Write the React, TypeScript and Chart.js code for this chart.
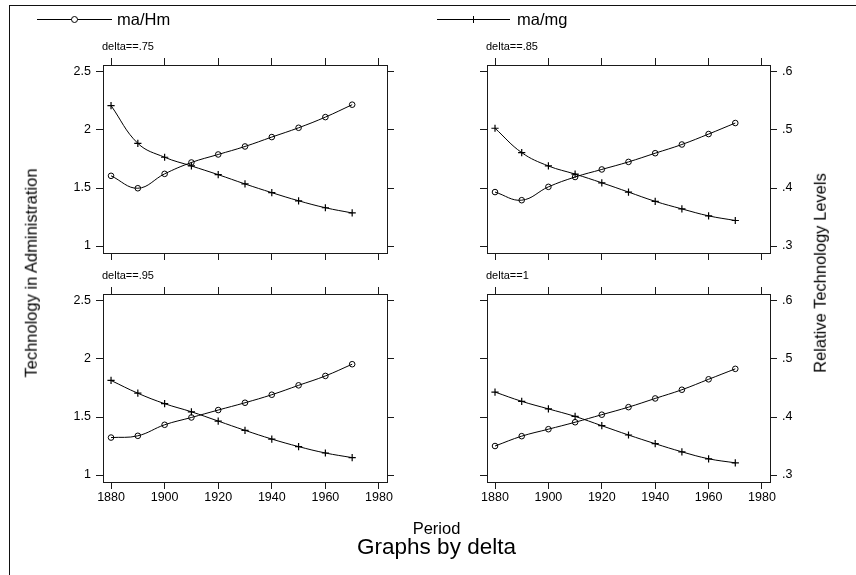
import React, { useEffect, useRef } from 'react';
import { Chart, registerables } from 'chart.js';

Chart.register(...registerables);

// ---------- data ----------
const years = [1880, 1890, 1900, 1910, 1920, 1930, 1940, 1950, 1960, 1970];
const xTicks = [1880, 1900, 1920, 1940, 1960, 1980];
const yLeftTicks = [1, 1.5, 2, 2.5];
const yLeftLabels = ['1', '1.5', '2', '2.5'];
const yRightTicks = [0.3, 0.4, 0.5, 0.6];
const yRightLabels = ['.3', '.4', '.5', '.6'];
const seriesNames = ['ma/Hm', 'ma/mg'];
const panelTitles = ['delta==.75', 'delta==.85', 'delta==.95', 'delta==1'];

// ma/Hm on left axis (Technology in Administration)
const maHm75 = [1.605, 1.498, 1.622, 1.72, 1.789, 1.858, 1.939, 2.019, 2.111, 2.218];
const maHm85 = [1.465, 1.395, 1.51, 1.595, 1.66, 1.725, 1.8, 1.875, 1.965, 2.06];
const maHm95 = [1.323, 1.338, 1.433, 1.496, 1.56, 1.623, 1.692, 1.773, 1.854, 1.955];
const maHm1 = [1.25, 1.335, 1.395, 1.455, 1.52, 1.585, 1.66, 1.735, 1.825, 1.915];

// ma/mg on right axis (Relative Technology Levels)
const maMg75 = [0.542, 0.477, 0.453, 0.438, 0.423, 0.407, 0.392, 0.378, 0.366, 0.357];
const maMg85 = [0.503, 0.461, 0.438, 0.424, 0.409, 0.393, 0.377, 0.364, 0.352, 0.344];
const maMg95 = [0.463, 0.441, 0.423, 0.409, 0.393, 0.377, 0.362, 0.349, 0.338, 0.33];
const maMg1 = [0.443, 0.427, 0.414, 0.401, 0.385, 0.369, 0.354, 0.34, 0.328, 0.321];

// ---------- layout ----------
const W = 856;
const H = 575;
const FONT = "'Liberation Sans', Arial, Helvetica, sans-serif";
const FRAME = '#1a1a1a';
const AXW = 45; // fixed width of vertical axis boxes
const AXH = 30; // fixed height of horizontal axis boxes

const panels = [
  { title: panelTitles[0], hm: maHm75, mg: maMg75, l: 103, t: 65, r: 387, b: 253, left: true, right: false, bottom: false },
  { title: panelTitles[1], hm: maHm85, mg: maMg85, l: 487, t: 65, r: 770, b: 253, left: false, right: true, bottom: false },
  { title: panelTitles[2], hm: maHm95, mg: maMg95, l: 103, t: 294, r: 387, b: 482, left: true, right: false, bottom: true },
  { title: panelTitles[3], hm: maHm1, mg: maMg1, l: 487, t: 294, r: 770, b: 482, left: false, right: true, bottom: true },
];

type Panel = typeof panels[number];

function makeChart(canvas: HTMLCanvasElement, p: Panel) {
  const fixW = (s: any) => { s.width = AXW; };
  const fixH = (s: any) => { s.height = AXH; };
  const setTicks = (vals: number[]) => (s: any) => { s.ticks = vals.map((v) => ({ value: v })); };
  const font = { family: FONT, size: 12.5 };
  const grid = { drawOnChartArea: false, drawTicks: true, tickLength: 7, color: FRAME, lineWidth: 1 };
  const border = { display: true, color: FRAME, width: 1 };
  const xMin = 1877;
  const xMax = 1983;
  return new Chart(canvas, {
    type: 'line',
    data: {
      datasets: [
        {
          label: seriesNames[0],
          data: years.map((x, i) => ({ x, y: p.hm[i] })),
          xAxisID: 'x',
          yAxisID: 'y',
          borderColor: '#000',
          borderWidth: 1,
          tension: 0.4,
          fill: false,
          pointStyle: 'circle',
          pointRadius: 2.8,
          pointBackgroundColor: 'rgba(255,255,255,0)',
          pointBorderColor: '#000',
          pointBorderWidth: 1,
        },
        {
          label: seriesNames[1],
          data: years.map((x, i) => ({ x, y: p.mg[i] })),
          xAxisID: 'x',
          yAxisID: 'y1',
          borderColor: '#000',
          borderWidth: 1,
          tension: 0.4,
          fill: false,
          pointStyle: 'cross',
          pointRadius: 3.6,
          pointBorderColor: '#000',
          pointBorderWidth: 1.2,
        },
      ],
    },
    options: {
      animation: false,
      responsive: false,
      events: [],
      layout: { padding: { left: p.l - AXW, top: p.t - AXH, right: W - p.r - AXW, bottom: H - p.b - AXH } },
      plugins: { legend: { display: false }, tooltip: { enabled: false } },
      scales: {
        x: {
          type: 'linear', position: 'bottom', min: xMin, max: xMax,
          afterBuildTicks: setTicks(xTicks), afterFit: fixH, grid, border,
          ticks: { display: p.bottom, autoSkip: false, maxRotation: 0, padding: 1, color: '#000', font, callback: (v: any) => String(v) },
        },
        x2: {
          type: 'linear', position: 'top', min: xMin, max: xMax,
          afterBuildTicks: setTicks(xTicks), afterFit: fixH, grid, border,
          ticks: { display: false },
        },
        y: {
          type: 'linear', position: 'left', min: 0.94, max: 2.56,
          afterBuildTicks: setTicks(yLeftTicks), afterFit: fixW, grid, border,
          ticks: { display: p.left, autoSkip: false, padding: 5, color: '#000', font, callback: (_v: any, i: number) => yLeftLabels[i] },
        },
        y1: {
          type: 'linear', position: 'right', min: 0.288, max: 0.612,
          afterBuildTicks: setTicks(yRightTicks), afterFit: fixW, grid, border,
          ticks: { display: p.right, autoSkip: false, padding: 5, color: '#000', font, callback: (_v: any, i: number) => yRightLabels[i] },
        },
      },
    } as any,
  });
}

function PanelCanvas({ p }: { p: Panel }) {
  const ref = useRef<HTMLCanvasElement>(null);
  useEffect(() => {
    if (!ref.current) return;
    const c = makeChart(ref.current, p);
    return () => c.destroy();
  }, [p]);
  return <canvas ref={ref} width={W} height={H} style={{ position: 'absolute', left: 0, top: 0, width: W, height: H }} />;
}

const txt = (extra: React.CSSProperties): React.CSSProperties => ({
  position: 'absolute', fontFamily: FONT, color: '#000', whiteSpace: 'nowrap', lineHeight: 1, ...extra,
});

export default function App() {
  return (
    <div style={{ position: 'fixed', left: 0, top: 0, width: W, height: H, overflow: 'hidden', background: '#fff' }}>
      <div style={{ position: 'absolute', left: 9, top: 5, width: 1000, height: 1000, borderLeft: '1px solid #111', borderTop: '1px solid #111' }} />
      {panels.map((p, i) => <PanelCanvas key={i} p={p} />)}
      {panels.map((p, i) => (
        <div key={'t' + i} style={txt({ left: p.l - 1, top: p.t - 24, fontSize: 11 })}>{p.title}</div>
      ))}

      {/* legend */}
      <div style={{ position: 'absolute', left: 37, top: 19, width: 75, height: 1, background: '#000' }} />
      <div style={{ position: 'absolute', left: 71, top: 16, width: 5, height: 5, border: '1px solid #000', borderRadius: '50%', background: '#fff' }} />
      <div style={txt({ left: 117, top: 11, fontSize: 16.5 })}>{seriesNames[0]}</div>
      <div style={{ position: 'absolute', left: 437, top: 19, width: 73, height: 1, background: '#000' }} />
      <div style={{ position: 'absolute', left: 473, top: 16, width: 1, height: 7, background: '#000' }} />
      <div style={txt({ left: 517, top: 11, fontSize: 16.5 })}>{seriesNames[1]}</div>

      {/* axis titles */}
      <div style={txt({ left: 31, top: 273, fontSize: 16.5, transform: 'translate(-50%, -50%) rotate(-90deg)' })}>Technology in Administration</div>
      <div style={txt({ left: 820, top: 273, fontSize: 16.5, transform: 'translate(-50%, -50%) rotate(-90deg)' })}>Relative Technology Levels</div>
      <div style={txt({ left: 436.5, top: 528, fontSize: 16.5, transform: 'translate(-50%, -50%)' })}>Period</div>
      <div style={txt({ left: 436.5, top: 547, fontSize: 22.5, transform: 'translate(-50%, -50%)' })}>Graphs by delta</div>
    </div>
  );
}
